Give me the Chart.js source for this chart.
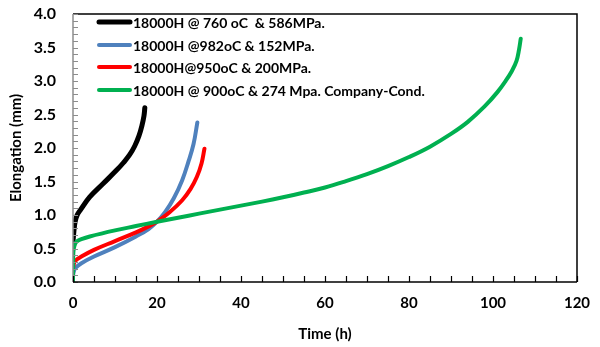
<!DOCTYPE html>
<html>
<head>
<meta charset="utf-8">
<script src="https://cdn.jsdelivr.net/npm/chart.js@4/dist/chart.umd.min.js"></script>
<style>
  html, body { margin: 0; padding: 0; background: #fff; }
  #wrap { width: 600px; height: 347px; position: relative; }
</style>
</head>
<body>
<div id="wrap"><canvas id="chart"></canvas></div>
<script>
// creep curves
const labels = [
  "18000H @ 760 oC  & 586MPa.",
  "18000H @982oC & 152MPa.",
  "18000H@950oC & 200MPa.",
  "18000H @ 900oC & 274 Mpa. Company-Cond."
];
const colors = ["#000000", "#4f81bd", "#ff0000", "#00b050"];

const timeBlack = [0, 0.2, 0.5, 1, 1.7, 4, 7.2, 10.4, 12, 13.5, 14.7, 15.7, 16.4, 16.9, 17.1];
const elongBlack = [0.6, 0.75, 0.9, 1.0, 1.07, 1.27, 1.47, 1.67, 1.78, 1.9, 2.03, 2.18, 2.33, 2.48, 2.6];

const timeBlue = [0, 0.2, 0.6, 2, 5, 10, 15, 18, 20, 22, 24, 26, 27.5, 28.7, 29.6];
const elongBlue = [0.1, 0.16, 0.21, 0.28, 0.38, 0.52, 0.68, 0.79, 0.9, 1.05, 1.25, 1.52, 1.8, 2.06, 2.38];

const timeRed = [0, 0.2, 0.6, 2, 5, 10, 15, 18, 20, 23, 26, 28, 29.5, 30.6, 31.3];
const elongRed = [0.2, 0.27, 0.32, 0.38, 0.48, 0.61, 0.74, 0.83, 0.9, 1.04, 1.22, 1.39, 1.57, 1.77, 1.99];

const timeGreen = [0, 0.05, 0.2, 0.5, 1, 2, 4, 10, 15, 20, 25, 30, 35, 40, 45, 50, 55, 60, 65, 70, 75, 80, 85, 90, 94, 98, 101, 103, 104.5, 105.6, 106.2, 106.6];
const elongGreen = [0, 0.4, 0.5, 0.57, 0.61, 0.64, 0.68, 0.77, 0.835, 0.9, 0.96, 1.02, 1.08, 1.14, 1.2, 1.265, 1.335, 1.41, 1.505, 1.61, 1.73, 1.865, 2.02, 2.21, 2.39, 2.62, 2.83, 3.0, 3.15, 3.3, 3.47, 3.63];

const xTicks = [0, 20, 40, 60, 80, 100, 120];
const yTicks = [0, 0.5, 1, 1.5, 2, 2.5, 3, 3.5, 4];

function pts(t, v) {
  return t.map((x, i) => ({ x: x, y: v[i] }));
}

const series = [
  pts(timeBlack, elongBlack),
  pts(timeBlue, elongBlue),
  pts(timeRed, elongRed),
  pts(timeGreen, elongGreen)
];

const FONT = "Lato, 'Open Sans', sans-serif";

// inside ticks, frame and legend
const framePlugin = {
  id: "frame",
  afterDatasetsDraw(chart) {
    const ctx = chart.ctx;
    const a = chart.chartArea;
    const xs = chart.scales.x, ys = chart.scales.y;
    ctx.save();
    // top + right frame
    ctx.strokeStyle = "#000";
    ctx.lineWidth = 1.5;
    ctx.beginPath();
    ctx.moveTo(a.left, a.top);
    ctx.lineTo(a.right, a.top);
    ctx.lineTo(a.right, a.bottom);
    ctx.stroke();
    // left axis gray
    ctx.strokeStyle = "#8c8c8c";
    ctx.lineWidth = 1.5;
    ctx.beginPath();
    ctx.moveTo(a.left, a.top);
    ctx.lineTo(a.left, a.bottom);
    ctx.stroke();
    ctx.lineWidth = 1;
    for (let v = 0; v <= 40; v++) {
      const y = Math.round(ys.getPixelForValue(v / 10)) + 0.5;
      ctx.beginPath();
      ctx.moveTo(a.left, y);
      ctx.lineTo(a.left + 5, y);
      ctx.stroke();
    }
    // bottom axis black with ticks
    ctx.strokeStyle = "#000";
    ctx.lineWidth = 1.5;
    ctx.beginPath();
    ctx.moveTo(a.left, a.bottom);
    ctx.lineTo(a.right, a.bottom);
    ctx.stroke();
    ctx.lineWidth = 1.2;
    for (let t = 0; t <= 120; t += 5) {
      const x = Math.round(xs.getPixelForValue(t)) + 0.5;
      ctx.beginPath();
      ctx.moveTo(x, a.bottom);
      ctx.lineTo(x, a.bottom - 6);
      ctx.stroke();
    }
    // legend
    ctx.font = "bold 14px " + FONT;
    ctx.textBaseline = "middle";
    ctx.fillStyle = "#000";
    const rowY = [22, 45, 67, 90];
    chart.data.datasets.forEach((ds, i) => {
      ctx.strokeStyle = ds.borderColor;
      ctx.lineWidth = i === 0 ? 5 : 4;
      ctx.lineCap = "round";
      ctx.beginPath();
      ctx.moveTo(99, rowY[i]);
      ctx.lineTo(130, rowY[i]);
      ctx.stroke();
      ctx.fillText(ds.label, 133, rowY[i] + 1);
    });
    ctx.restore();
  }
};

new Chart(document.getElementById("chart"), {
  type: "line",
  data: {
    datasets: series.map((d, i) => ({
      label: labels[i],
      data: d,
      borderColor: colors[i],
      backgroundColor: colors[i],
      borderWidth: i === 0 ? 5 : 4,
      borderCapStyle: "round",
      borderJoinStyle: "round",
      pointRadius: 0,
      tension: 0.4,
      fill: false,
      order: 4 - i
    }))
  },
  options: {
    responsive: true,
    maintainAspectRatio: false,
    animation: false,
    layout: { padding: { top: 14, right: 23, left: 0, bottom: 0 } },
    plugins: { legend: { display: false }, tooltip: { enabled: false } },
    scales: {
      x: {
        type: "linear",
        min: 0,
        max: 120,
        afterFit(s) { s.height = 65; s.paddingLeft = 0; s.paddingRight = 0; },
        afterBuildTicks(s) { s.ticks = xTicks.map(v => ({ value: v })); },
        grid: { display: false, drawTicks: false },
        border: { display: false },
        ticks: {
          padding: 12,
          color: "#000",
          font: { family: FONT, size: 15, weight: "bold" }
        },
        title: {
          display: true,
          text: "Time (h)",
          color: "#000",
          padding: { top: 4 },
          font: { family: FONT, size: 15, weight: "bold" }
        }
      },
      y: {
        min: 0,
        max: 4,
        afterFit(s) { s.width = 73; s.paddingTop = 0; s.paddingBottom = 0; },
        afterBuildTicks(s) { s.ticks = yTicks.map(v => ({ value: v })); },
        grid: { display: false, drawTicks: false },
        border: { display: false },
        ticks: {
          padding: 17,
          color: "#000",
          font: { family: FONT, size: 16, weight: "bold" },
          callback: v => v.toFixed(1)
        },
        title: {
          display: true,
          text: "Elongation (mm)",
          color: "#000",
          padding: { top: 7, bottom: 0 },
          font: { family: FONT, size: 15, weight: "bold" }
        }
      }
    }
  },
  plugins: [framePlugin]
});
</script>
</body>
</html>
